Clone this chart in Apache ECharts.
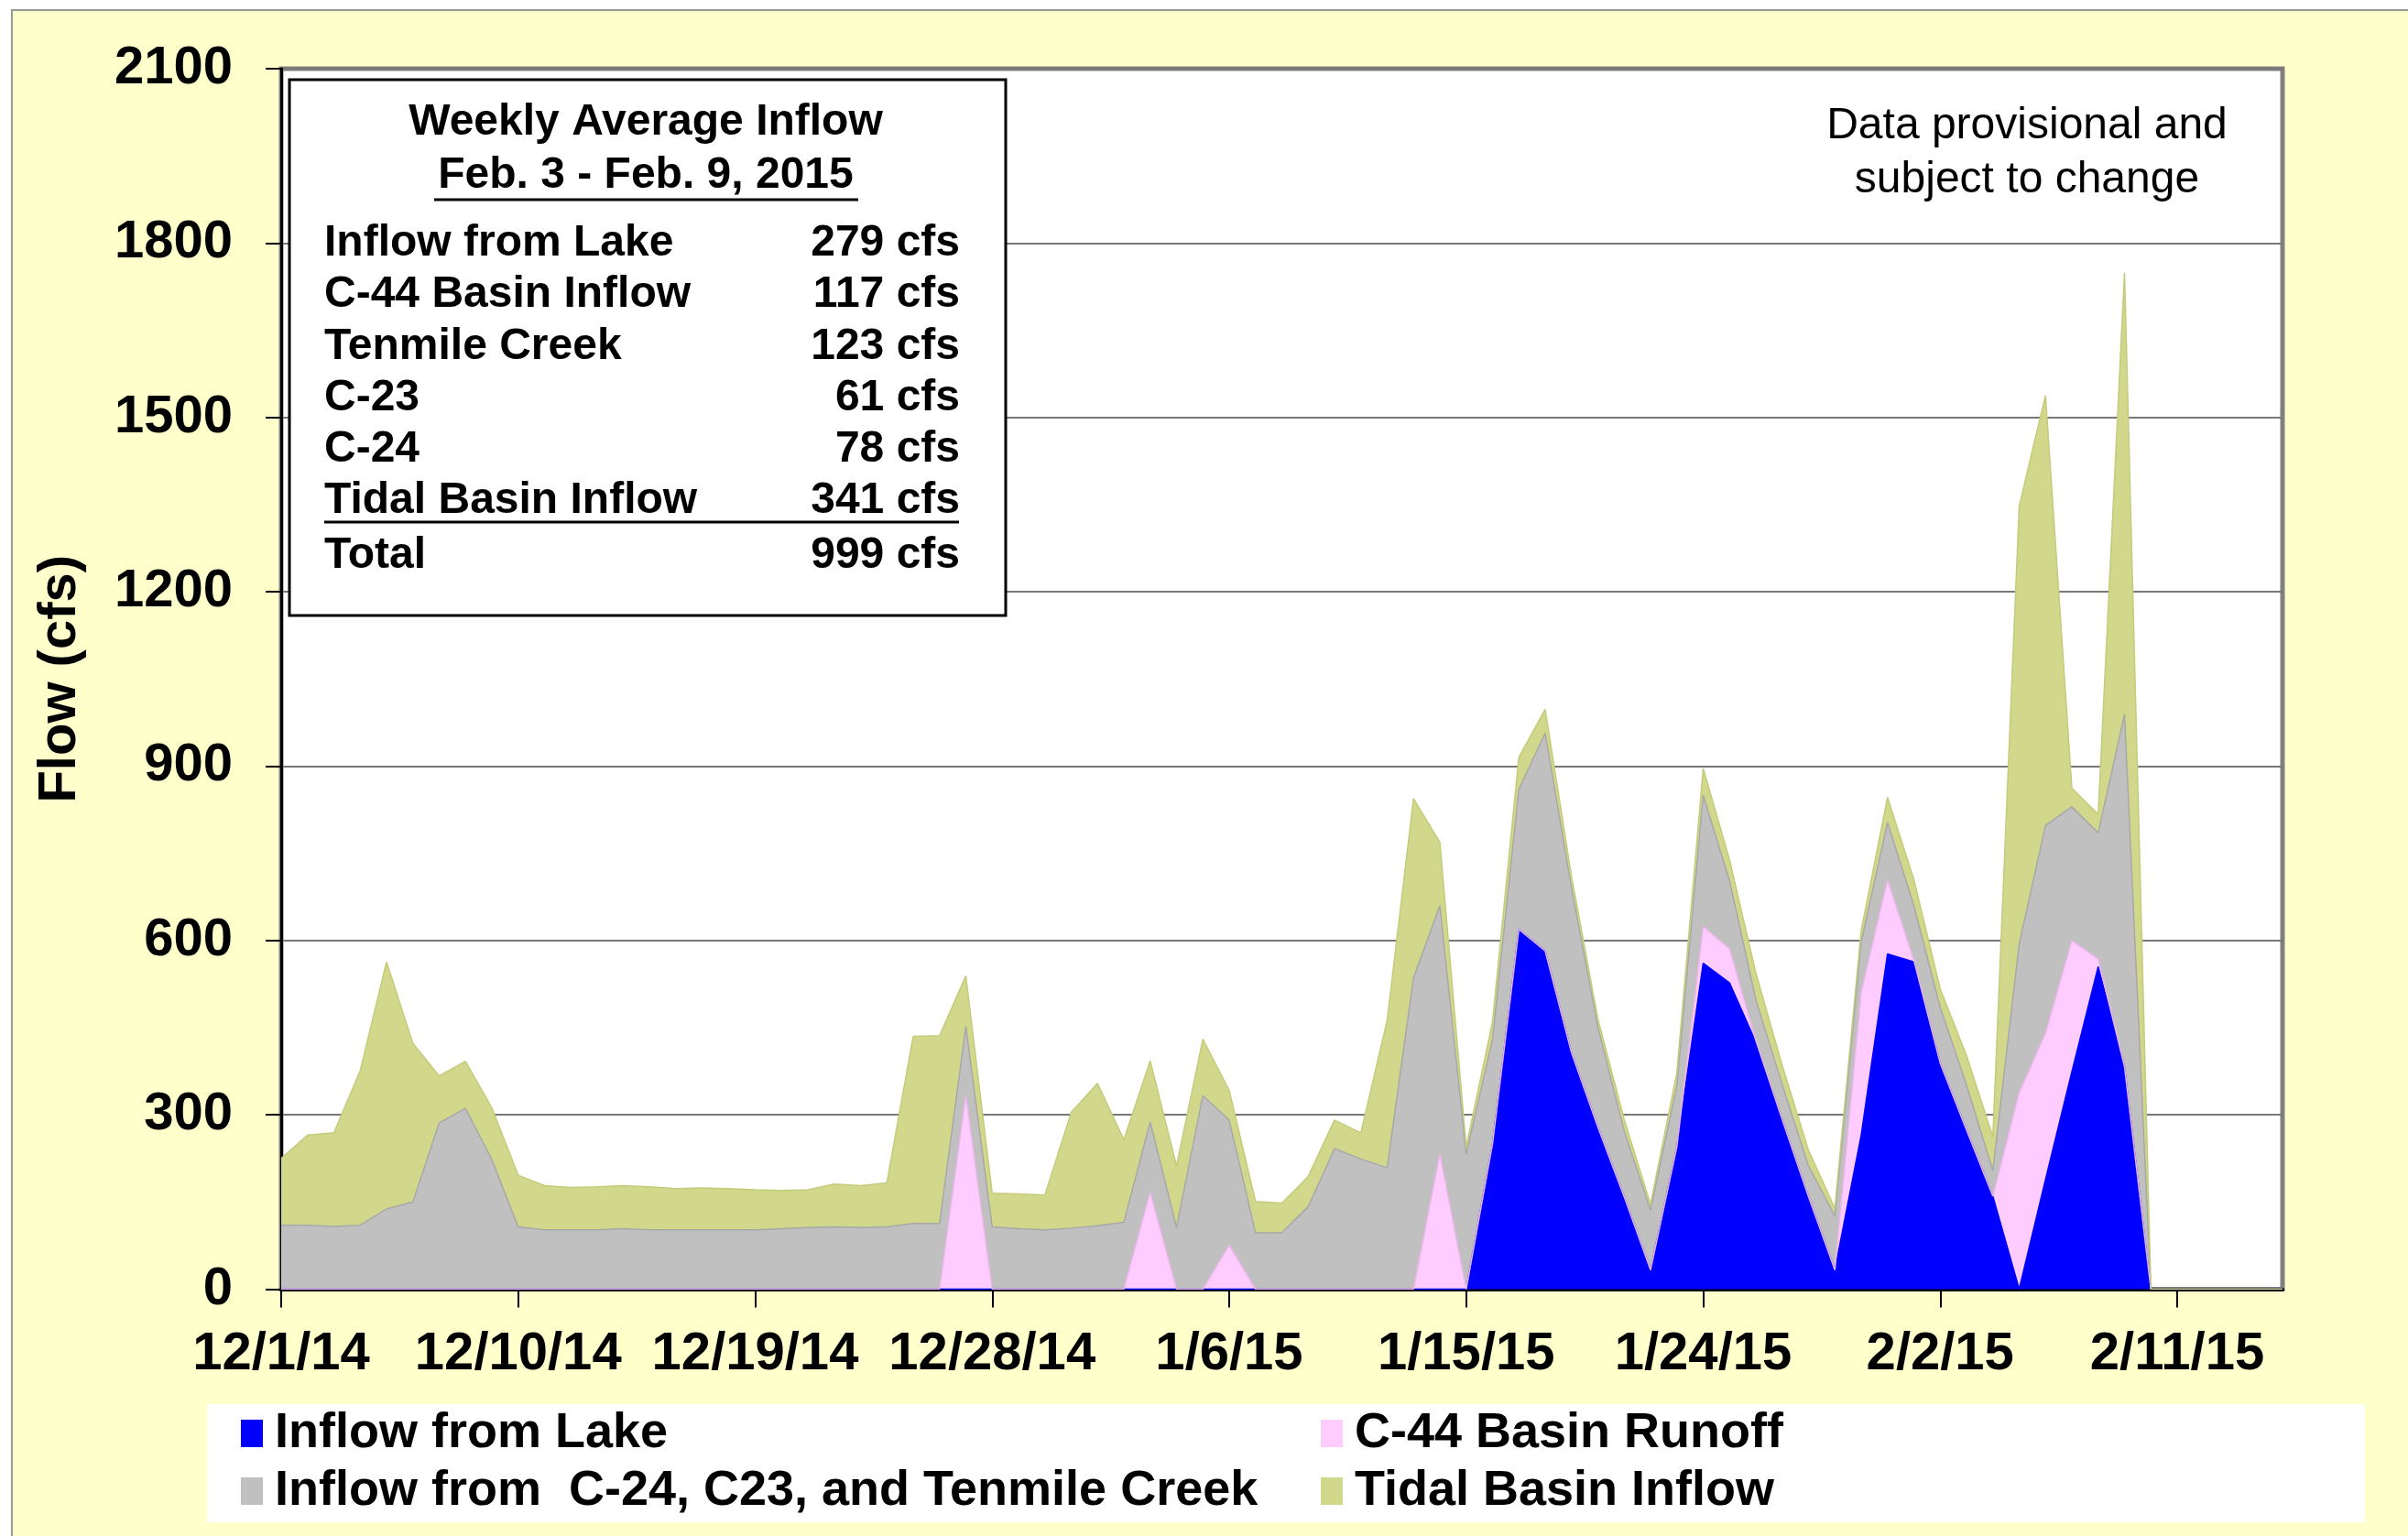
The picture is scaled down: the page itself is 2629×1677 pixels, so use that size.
<!DOCTYPE html>
<html>
<head>
<meta charset="utf-8">
<script src="https://cdn.jsdelivr.net/npm/echarts@6/dist/echarts.min.js"></script>
<style>
html,body{margin:0;padding:0;background:#ffffff;}
#frame{position:absolute;left:12px;top:10px;width:2617px;height:1667px;background:#FFFFCC;border-left:2px solid #9a9a9a;border-top:2px solid #9a9a9a;box-sizing:border-box;}
#chart{position:absolute;left:0;top:0;width:2629px;height:1677px;}
</style>
</head>
<body>
<div id="frame"></div>
<div id="chart"></div>
<script>
// ---- categories (daily) ----
const dates = [
 '12/1/14','12/2/14','12/3/14','12/4/14','12/5/14','12/6/14','12/7/14','12/8/14','12/9/14','12/10/14',
 '12/11/14','12/12/14','12/13/14','12/14/14','12/15/14','12/16/14','12/17/14','12/18/14','12/19/14','12/20/14',
 '12/21/14','12/22/14','12/23/14','12/24/14','12/25/14','12/26/14','12/27/14','12/28/14','12/29/14','12/30/14',
 '12/31/14','1/1/15','1/2/15','1/3/15','1/4/15','1/5/15','1/6/15','1/7/15','1/8/15','1/9/15',
 '1/10/15','1/11/15','1/12/15','1/13/15','1/14/15','1/15/15','1/16/15','1/17/15','1/18/15','1/19/15',
 '1/20/15','1/21/15','1/22/15','1/23/15','1/24/15','1/25/15','1/26/15','1/27/15','1/28/15','1/29/15',
 '1/30/15','1/31/15','2/1/15','2/2/15','2/3/15','2/4/15','2/5/15','2/6/15','2/7/15','2/8/15',
 '2/9/15','2/10/15','2/11/15','2/12/15','2/13/15','2/14/15','2/15/15'
];

// ---- series values (cfs) ----
const inflowFromLake = [
 0,0,0,0,0,0,0,0,0,0,
 0,0,0,0,0,0,0,0,0,0,
 0,0,0,0,0,0,0,0,0,0,
 0,0,0,0,0,0,0,0,0,0,
 0,0,0,0,0,0,250,619,582,407,
 279,159,33,245,561,527,425,292,159,33,
 265,577,563,389,274,160,0,189,374,555,
 383,0,0,0,0,0,0
];
const c44BasinRunoff = [
 0,0,0,0,0,0,0,0,0,0,
 0,0,0,0,0,0,0,0,0,0,
 0,0,0,0,0,0,333,0,0,0,
 0,0,0,167,0,0,76,0,0,0,
 0,0,0,0,233,0,0,0,0,0,
 0,0,0,0,63,59,3,0,0,0,
 246,127,3,0,0,0,338,251,226,13,
 0,0,0,0,0,0,0
];
const basinInflow = [
 110,110,108,110,138,150,286,311,223,107,
 102,102,102,104,102,102,102,102,102,104,
 106,107,106,107,113,113,119,107,104,102,
 105,109,115,121,106,333,215,97,97,142,
 242,224,209,536,427,232,180,241,375,283,
 172,113,103,105,226,117,70,60,53,93,
 86,99,94,96,77,44,256,358,230,217,
 606,0,0,0,0,0,0
];
const tidalBasinInflow = [
 115,155,161,266,425,273,81,81,89,89,
 76,73,74,74,74,71,72,71,69,66,
 65,74,72,76,322,323,87,58,60,60,
 199,245,142,105,106,97,51,54,51,52,
 49,45,254,308,109,13,30,55,41,20,
 14,20,10,22,46,36,46,33,27,13,
 20,43,45,32,51,58,753,740,32,32,
 760,0,0,0,0,0,0
];

const seriesNames = ['Inflow from Lake','C-44 Basin Runoff','Inflow from  C-24, C23, and Tenmile Creek','Tidal Basin Inflow'];

// ---- summary box text ----
const boxTitle = 'Weekly Average Inflow';
const boxPeriod = 'Feb. 3 - Feb. 9, 2015';
const boxLabels = ['Inflow from Lake','C-44 Basin Inflow','Tenmile Creek','C-23','C-24','Tidal Basin Inflow','Total'];
const boxValues = ['279 cfs','117 cfs','123 cfs','61 cfs','78 cfs','341 cfs','999 cfs'];
const noteText = 'Data provisional and\nsubject to change';

const FONT = '"Liberation Sans", Arial, Helvetica, sans-serif';

function mk(name, data, color, lineColor) {
  return {
    name: name, type: 'line', stack: 'flow', data: data,
    symbol: 'none', smooth: false, z: 2,
    lineStyle: {width: 1.5, color: lineColor},
    areaStyle: {color: color, opacity: 1},
    itemStyle: {color: color},
    emphasis: {disabled: true}
  };
}

const rowY = [266, 322, 379, 435, 491, 547, 607];
const graphic = [
  {type:'rect', z:1, shape:{x:226, y:1533, width:2356, height:129}, style:{fill:'#ffffff'}},
  {type:'rect', z:10, shape:{x:316, y:87, width:782, height:585}, style:{fill:'#ffffff', stroke:'#000000', lineWidth:3}},
  {type:'text', z:11, x:705, y:134, style:{text:boxTitle, fontSize:48, fontWeight:'bold', fontFamily:FONT, fill:'#000', align:'center', verticalAlign:'middle'}},
  {type:'text', z:11, x:705, y:192, style:{text:boxPeriod, fontSize:48, fontWeight:'bold', fontFamily:FONT, fill:'#000', align:'center', verticalAlign:'middle'}},
  {type:'line', z:11, shape:{x1:474, y1:218, x2:937, y2:218}, style:{stroke:'#000', lineWidth:3}},
  {type:'line', z:11, shape:{x1:354, y1:570, x2:1047, y2:570}, style:{stroke:'#000', lineWidth:3}},
  {type:'text', z:11, x:2213, y:167, style:{text:noteText, fontSize:48, fontFamily:FONT, fill:'#000', align:'center', verticalAlign:'middle', lineHeight:59}}
];
boxLabels.forEach(function(t, i){
  graphic.push({type:'text', z:11, x:354, y:rowY[i], style:{text:t, fontSize:48, fontWeight:'bold', fontFamily:FONT, fill:'#000', align:'left', verticalAlign:'middle'}});
  graphic.push({type:'text', z:11, x:1048, y:rowY[i], style:{text:boxValues[i], fontSize:48, fontWeight:'bold', fontFamily:FONT, fill:'#000', align:'right', verticalAlign:'middle'}});
});

const legendText = {fontSize:54, fontWeight:'bold', color:'#000', fontFamily:FONT, lineHeight:54, padding:[0,0,0,8]};

const option = {
  animation: false,
  backgroundColor: 'transparent',
  grid: {left:307, top:75, right:137, bottom:269.5, show:true, backgroundColor:'#ffffff', borderColor:'#808080', borderWidth:5},
  xAxis: {
    type:'category', data:dates, boundaryGap:false,
    axisLine:{show:true, lineStyle:{color:'#000', width:4}},
    axisTick:{show:true, interval:8, length:20, lineStyle:{color:'#000', width:2}},
    axisLabel:{interval:8, margin:42, fontSize:58, fontWeight:'bold', color:'#000', fontFamily:FONT},
    splitLine:{show:false}
  },
  yAxis: {
    type:'value', min:0, max:2100, interval:300,
    name:'Flow (cfs)', nameLocation:'middle', nameRotate:90, nameGap:212,
    nameTextStyle:{fontSize:58, fontWeight:'bold', color:'#000', fontFamily:FONT},
    axisLine:{show:true, lineStyle:{color:'#000', width:3}},
    axisTick:{show:true, length:17, lineStyle:{color:'#000', width:2}},
    axisLabel:{margin:53, fontSize:58, fontWeight:'bold', color:'#000', fontFamily:FONT,
               formatter:function(v){ return String(v); }},
    splitLine:{show:true, lineStyle:{color:'#787878', width:2}}
  },
  legend: [
    {left:263, top:1538, orient:'vertical', padding:0, itemGap:9, itemWidth:24, itemHeight:30, icon:'rect',
     selectedMode:false, data:[seriesNames[0], seriesNames[2]], textStyle:legendText, z:5},
    {left:1442, top:1538, orient:'vertical', padding:0, itemGap:9, itemWidth:24, itemHeight:30, icon:'rect',
     selectedMode:false, data:[seriesNames[1], seriesNames[3]], textStyle:legendText, z:5}
  ],
  series: [
    mk(seriesNames[0], inflowFromLake, '#0000FF', '#0000FF'),
    mk(seriesNames[1], c44BasinRunoff, '#FFCCFF', '#E9B6E9'),
    mk(seriesNames[2], basinInflow, '#C0C0C0', '#A8A8A8'),
    mk(seriesNames[3], tidalBasinInflow, '#D1D88B', '#C4CB7B')
  ],
  graphic: graphic
};

const chart = echarts.init(document.getElementById('chart'), null, {renderer:'canvas'});
chart.setOption(option);
</script>
</body>
</html>
